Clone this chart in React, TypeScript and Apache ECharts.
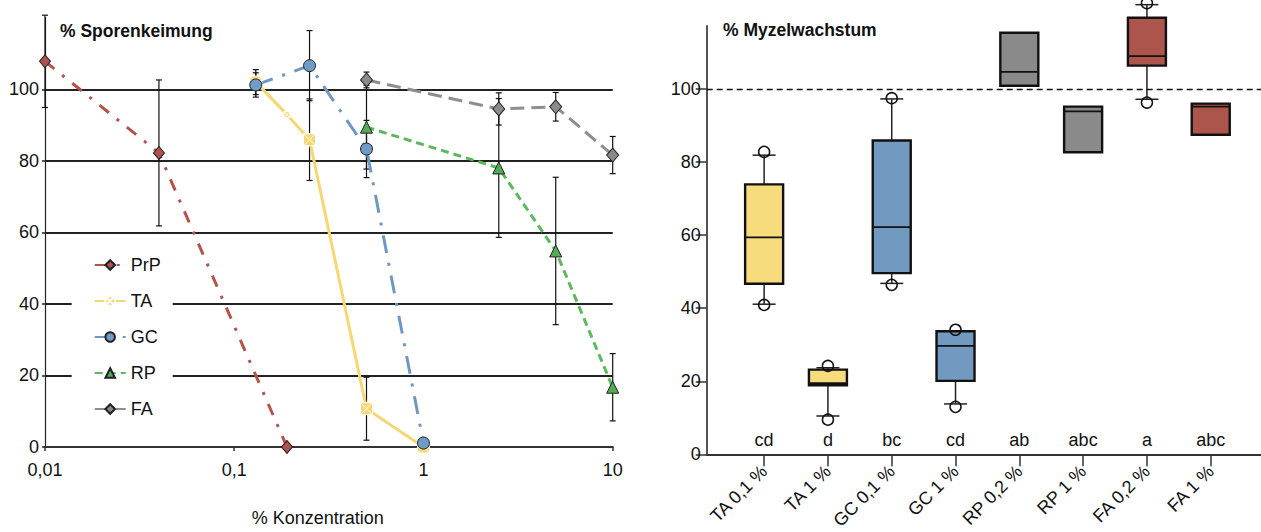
import React, { useEffect, useRef } from "react";
import * as echarts from "echarts";

// ---------- Left chart data (% Sporenkeimung vs % Konzentration) ----------
const concTickLabels = ["0,01", "0,1", "1", "10"];

const prpX = [0.01, 0.04, 0.19];
const prpY = [107.8, 82.2, 0];
const prpErr = [12.9, 20.4, null];

const taX = [0.13, 0.19, 0.25, 0.5, 1];
const taY = [102, 92.9, 85.9, 10.7, 0];
const taErr = [3.5, null, 11.4, 8.8, null];

const gcX = [0.13, 0.25, 0.5, 1];
const gcY = [101.2, 106.6, 83.3, 1.1];
const gcErr = [3.4, 9.8, 8.0, null];

const rpX = [0.5, 2.5, 5, 10];
const rpY = [89.4, 78, 54.8, 16.7];
const rpErr = [11.7, 19.4, 20.6, 9.4];

const faX = [0.5, 2.5, 5, 10];
const faY = [102.6, 94.5, 95.1, 81.6];
const faErr = [2.2, 4.5, 4.0, 5.2];

const leftYTicks = [0, 20, 40, 60, 80, 100];

// ---------- Right chart data (% Myzelwachstum boxplots) ----------
const categories = ["TA 0,1 %", "TA 1 %", "GC 0,1 %", "GC 1 %", "RP 0,2 %", "RP 1 %", "FA 0,2 %", "FA 1 %"];
const boxLow = [41.1, 10.5, 46.8, 13.8, null, null, 97.2, null];
const boxQ1 = [46.7, 18.9, 49.6, 20.1, 100.9, 82.7, 106.4, 87.5];
const boxMedian = [59.4, 19.5, 62.2, 29.7, 104.7, 93.9, 109.0, 95.2];
const boxQ3 = [73.9, 23.2, 85.9, 33.7, 115.4, 95.2, 119.5, 96.0];
const boxHigh = [81.9, 23.7, 97.3, 33.7, null, null, 123.1, null];
const outLow = [40.9, 9.5, 46.4, 13.0, null, null, 96.3, null];
const outHigh = [82.8, 24.2, 97.5, 34.1, null, null, 123.5, null];
const letters = ["cd", "d", "bc", "cd", "ab", "abc", "a", "abc"];
const rightYTicks = [0, 20, 40, 60, 80, 100];
const referenceLine = 100;

// ---------- Styles ----------
const FONT = "'Liberation Sans', Arial, sans-serif";
const FS = 18;
const TXT = "#111";
const boxColors = ["#f6dc7c", "#f6dc7c", "#7299bf", "#7299bf", "#8a8a8a", "#8a8a8a", "#ac554d", "#ac554d"];
const taSymbolSizes = [12, 6, 12, 12, 12];
const TA_SYMBOL = "path://M0,0L10,0L10,10L0,10Z M0,0L10,10 M10,0L0,10";

const zip = (xs: number[], ys: number[]) => xs.map((x, i) => [x, ys[i]]);
const errData = (xs: number[], ys: number[], errs: (number | null)[]) =>
  xs
    .map((x, i) => (errs[i] == null ? null : [x, ys[i] - (errs[i] as number), ys[i] + (errs[i] as number)]))
    .filter((d) => d !== null);

function buildOption() {
  const errorBars = [
    ...errData(prpX, prpY, prpErr),
    ...errData(taX, taY, taErr),
    ...errData(gcX, gcY, gcErr),
    ...errData(rpX, rpY, rpErr),
    ...errData(faX, faY, faErr),
  ];

  const boxData = categories.map((_, i) => [
    i,
    boxLow[i] ?? "-",
    boxQ1[i],
    boxMedian[i],
    boxQ3[i],
    boxHigh[i] ?? "-",
    outLow[i] ?? "-",
    outHigh[i] ?? "-",
  ]);

  const lineSeries = (
    name: string,
    data: number[][],
    color: string,
    markerColor: string,
    dash: number[] | string,
    symbol: string,
    symbolSize: any,
    borderColor = "#222"
  ) => ({
    name,
    type: "line",
    xAxisIndex: 0,
    yAxisIndex: 0,
    data,
    z: 3,
    symbol,
    symbolSize,
    showAllSymbol: true,
    lineStyle: { color, width: 3, type: dash },
    itemStyle: { color: markerColor, borderColor, borderWidth: 1 },
  });

  return {
    animation: false,
    backgroundColor: "#fff",
    textStyle: { fontFamily: FONT },
    title: [
      {
        text: "% Sporenkeimung",
        left: 60,
        top: 22,
        padding: 0,
        textStyle: { fontFamily: FONT, fontSize: 17.5, fontWeight: "bold", color: TXT },
      },
      {
        text: "% Myzelwachstum",
        left: 723,
        top: 21,
        padding: 0,
        textStyle: { fontFamily: FONT, fontSize: 17.5, fontWeight: "bold", color: TXT },
      },
    ],
    legend: {
      data: ["PrP", "TA", "GC", "RP", "FA"],
      orient: "vertical",
      left: 71.7,
      top: 245,
      padding: [11, 12, 7, 22],
      backgroundColor: "#fff",
      itemWidth: 31,
      itemHeight: 12,
      itemGap: 18,
      textStyle: { fontFamily: FONT, fontSize: FS, color: TXT },
    },
    grid: [
      { left: 45, top: 17.7, width: 567.7, height: 438.3 },
      { left: 706.7, top: 26, width: 554.3, height: 430 },
    ],
    xAxis: [
      {
        gridIndex: 0,
        type: "log",
        logBase: 10,
        min: 0.01,
        max: 10,
        name: "% Konzentration",
        nameLocation: "middle",
        nameGap: 62,
        nameTextStyle: { fontFamily: FONT, fontSize: FS, color: TXT, padding: [0, 22, 0, 0] },
        axisLine: { lineStyle: { color: "#333", width: 2 } },
        axisTick: { length: 4, lineStyle: { color: "#333", width: 1.5 } },
        axisLabel: {
          margin: 14,
          fontFamily: FONT,
          fontSize: FS,
          color: TXT,
          formatter: (v: number) => concTickLabels[Math.round(Math.log10(v)) + 2] ?? "",
        },
        splitLine: { show: false },
      },
      {
        gridIndex: 1,
        type: "value",
        min: -0.9,
        max: 7.788,
        axisLine: { onZero: false, lineStyle: { color: "#333", width: 2 } },
        axisTick: {
          length: 12,
          lineStyle: { color: "#333", width: 1.5 },
          customValues: categories.map((_, i) => i),
        },
        axisLabel: {
          customValues: categories.map((_, i) => i),
          rotate: 45,
          margin: 14,
          fontFamily: FONT,
          fontSize: FS,
          color: TXT,
          formatter: (v: number) => categories[Math.round(v)] ?? "",
        },
        splitLine: { show: false },
      },
    ],
    yAxis: [
      {
        gridIndex: 0,
        type: "value",
        min: 0,
        max: 120,
        interval: 20,
        axisLine: { show: true, onZero: false, lineStyle: { color: "#222", width: 1.2 } },
        axisTick: { show: true, length: 3, lineStyle: { color: "#222", width: 1.5 }, customValues: leftYTicks },
        axisLabel: {
          customValues: leftYTicks,
          margin: 6,
          fontFamily: FONT,
          fontSize: FS,
          color: TXT,
        },
        splitLine: {
          show: true,
          showMinLine: false,
          lineStyle: { color: "#222", width: 1.8 },
        },
      },
      {
        gridIndex: 1,
        type: "value",
        min: 0,
        max: 117.26,
        axisLine: { show: true, onZero: false, lineStyle: { color: "#555", width: 2 } },
        axisTick: { show: true, length: 11, lineStyle: { color: "#333", width: 1.5 }, customValues: rightYTicks },
        axisLabel: { customValues: rightYTicks, margin: 6, fontFamily: FONT, fontSize: FS, color: TXT },
        splitLine: { show: false },
      },
    ],
    series: [
      {
        name: "errorbars",
        type: "custom",
        xAxisIndex: 0,
        yAxisIndex: 0,
        z: 2,
        clip: false,
        encode: { x: 0, y: [1, 2] },
        data: errorBars,
        renderItem: (params: any, api: any) => {
          const x = api.value(0);
          const lo = api.coord([x, api.value(1)]);
          const hi = api.coord([x, api.value(2)]);
          const c = 3;
          const st = { stroke: "#111", lineWidth: 1.2 };
          return {
            type: "group",
            children: [
              { type: "line", shape: { x1: lo[0], y1: lo[1], x2: hi[0], y2: hi[1] }, style: st },
              { type: "line", shape: { x1: lo[0] - c, y1: lo[1], x2: lo[0] + c, y2: lo[1] }, style: st },
              { type: "line", shape: { x1: hi[0] - c, y1: hi[1], x2: hi[0] + c, y2: hi[1] }, style: st },
            ],
          };
        },
      },
      lineSeries("PrP", zip(prpX, prpY), "#b5524b", "#b0514b", [12, 10, 3, 10], "diamond", [11, 13]),
      lineSeries(
        "TA",
        zip(taX, taY),
        "#f7d774",
        "#f7d774",
        "solid",
        TA_SYMBOL,
        (_v: any, p: any) => taSymbolSizes[p.dataIndex],
        "#ffffff"
      ),
      lineSeries("GC", zip(gcX, gcY), "#6e98c2", "#6f9bc6", [18, 10, 3, 10], "circle", 12),
      lineSeries("RP", zip(rpX, rpY), "#5cb85c", "#55aa55", [8, 5], "triangle", 12),
      lineSeries("FA", zip(faX, faY), "#8e8e8e", "#8a8a8a", [14, 7], "diamond", [12, 14]),
      {
        name: "boxes",
        type: "custom",
        xAxisIndex: 1,
        yAxisIndex: 1,
        z: 3,
        clip: false,
        encode: { x: 0, y: [1, 2, 3, 4, 5] },
        data: boxData,
        renderItem: (params: any, api: any) => {
          const i = api.value(0);
          const cy = (v: number) => api.coord([i, v])[1];
          const cx = api.coord([i, 0])[0];
          const y0 = cy(0);
          const hw = 19;
          const cw = 11.5;
          const r = 5.5;
          const wst = { stroke: "#222", lineWidth: 1.5 };
          const children: any[] = [];
          const low = api.value(1);
          const q1 = api.value(2);
          const med = api.value(3);
          const q3 = api.value(4);
          const high = api.value(5);
          const oLow = api.value(6);
          const oHigh = api.value(7);
          if (!isNaN(high)) {
            const y = cy(high);
            children.push({ type: "line", shape: { x1: cx, y1: cy(q3), x2: cx, y2: y }, style: wst });
            children.push({ type: "line", shape: { x1: cx - cw, y1: y, x2: cx + cw, y2: y }, style: wst });
          }
          if (!isNaN(low)) {
            const y = cy(low);
            children.push({ type: "line", shape: { x1: cx, y1: cy(q1), x2: cx, y2: y }, style: wst });
            children.push({ type: "line", shape: { x1: cx - cw, y1: y, x2: cx + cw, y2: y }, style: wst });
          }
          children.push({
            type: "rect",
            shape: { x: cx - hw, y: cy(q3), width: 2 * hw, height: cy(q1) - cy(q3) },
            style: { fill: boxColors[params.dataIndex], stroke: "#111", lineWidth: 2.4 },
          });
          children.push({
            type: "line",
            shape: { x1: cx - hw, y1: cy(med), x2: cx + hw, y2: cy(med) },
            style: { stroke: "#111", lineWidth: 1.6 },
          });
          [oLow, oHigh].forEach((v) => {
            if (!isNaN(v)) {
              children.push({
                type: "circle",
                shape: { cx, cy: cy(v), r },
                style: { fill: "none", stroke: "#111", lineWidth: 1.5 },
              });
            }
          });
          children.push({
            type: "text",
            x: cx,
            y: y0 - 14,
            style: {
              text: letters[params.dataIndex],
              fontFamily: FONT,
              fontSize: FS,
              fill: TXT,
              align: "center",
              verticalAlign: "middle",
            },
          });
          return { type: "group", children };
        },
      },
      {
        name: "ref",
        type: "line",
        xAxisIndex: 1,
        yAxisIndex: 1,
        data: [],
        markLine: {
          silent: true,
          symbol: "none",
          label: { show: false },
          lineStyle: { color: "#111", width: 1.3, type: [6, 4] },
          data: [{ yAxis: referenceLine }],
        },
      },
    ],
  };
}

export default function App() {
  const ref = useRef<HTMLDivElement>(null);
  useEffect(() => {
    document.body.style.margin = "0";
    const chart = echarts.init(ref.current as HTMLDivElement, null, { renderer: "svg" });
    chart.setOption(buildOption() as any);
    return () => chart.dispose();
  }, []);
  return <div ref={ref} style={{ width: 1261, height: 532, overflow: "hidden" }} />;
}
